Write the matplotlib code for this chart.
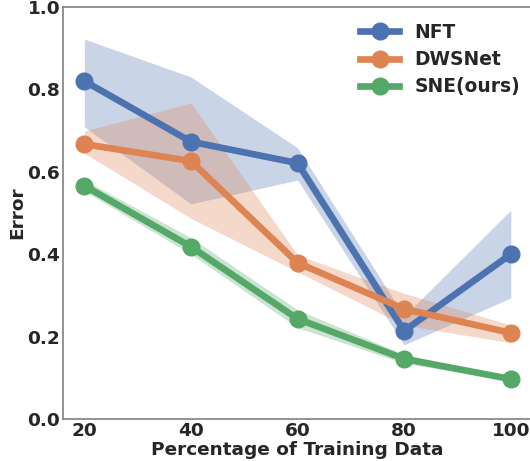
import matplotlib
matplotlib.use("Agg")
import matplotlib.pyplot as plt
import numpy as np

percent = [20, 40, 60, 80, 100]

nft_mean = [0.820, 0.673, 0.621, 0.214, 0.400]
nft_upper = [0.922, 0.830, 0.658, 0.250, 0.507]
nft_lower = [0.709, 0.522, 0.580, 0.180, 0.294]

dws_mean = [0.667, 0.626, 0.379, 0.267, 0.209]
dws_upper = [0.699, 0.767, 0.398, 0.305, 0.228]
dws_lower = [0.645, 0.487, 0.357, 0.228, 0.185]

sne_mean = [0.566, 0.418, 0.243, 0.146, 0.097]
sne_upper = [0.580, 0.440, 0.265, 0.157, 0.101]
sne_lower = [0.553, 0.400, 0.222, 0.135, 0.094]

series = [
    ("NFT", nft_mean, nft_lower, nft_upper, "#4C72B0"),
    ("DWSNet", dws_mean, dws_lower, dws_upper, "#DD8452"),
    ("SNE(ours)", sne_mean, sne_lower, sne_upper, "#55A868"),
]

plt.rcParams["font.family"] = "DejaVu Sans"
plt.rcParams["font.weight"] = "bold"

fig = plt.figure(figsize=(5.30, 4.61), dpi=100)
ax = fig.add_axes([0.119, 0.091, 0.885, 0.894])

for name, mean, lower, upper, color in series:
    ax.fill_between(percent, lower, upper, color=color, alpha=0.3, linewidth=0)
    ax.plot(percent, mean, color=color, linewidth=4.8, marker="o",
            markersize=12, label=name)

ax.set_xlim(16, 104)
ax.set_ylim(0, 1.0)
ax.set_xticks(percent)
ax.set_yticks([0.0, 0.2, 0.4, 0.6, 0.8, 1.0])
ax.tick_params(labelsize=13.3, length=0, pad=2, colors="#262626")
for label in ax.get_xticklabels() + ax.get_yticklabels():
    label.set_fontweight("bold")
ax.set_xlabel("Percentage of Training Data", fontsize=13.3, fontweight="bold",
              color="#262626", labelpad=1)
ax.set_ylabel("Error", fontsize=13.3, fontweight="bold", color="#262626")
ax.yaxis.set_label_coords(-0.079, 0.5)
for spine in ax.spines.values():
    spine.set_color("#808080")
    spine.set_linewidth(1.2)

leg = ax.legend(loc="upper right", bbox_to_anchor=(1.008, 1.0), frameon=False,
                fontsize=13.4, handlelength=2.1, borderaxespad=0.45,
                labelspacing=0.45)
for text in leg.get_texts():
    text.set_fontweight("bold")
    text.set_color("#262626")

fig.savefig("out.png", dpi=100)
